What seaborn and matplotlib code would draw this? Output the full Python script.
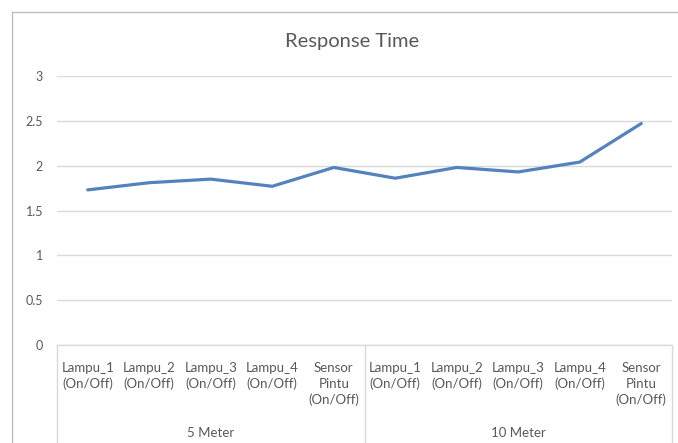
import matplotlib
matplotlib.use("Agg")
import matplotlib.pyplot as plt
import matplotlib.transforms as mtransforms
from matplotlib.lines import Line2D
import seaborn as sns
import pandas as pd

# ---- data ----
groups = ["5 Meter", "10 Meter"]
categories = ["Lampu_1\n(On/Off)", "Lampu_2\n(On/Off)", "Lampu_3\n(On/Off)",
              "Lampu_4\n(On/Off)", "Sensor\nPintu\n(On/Off)"]
values_5m = [1.73, 1.81, 1.85, 1.77, 1.98]
values_10m = [1.86, 1.98, 1.93, 2.04, 2.47]
y_ticks = [0, 0.5, 1, 1.5, 2, 2.5, 3]
y_tick_labels = ["0", "0.5", "1", "1.5", "2", "2.5", "3"]
title = "Response Time"

labels = categories + categories
values = values_5m + values_10m
df = pd.DataFrame({"idx": list(range(len(values))), "value": values})

sns.set_theme(style="white")
plt.rcParams["font.family"] = ["Lato", "DejaVu Sans"]

W, H = 678, 443
fig = plt.figure(figsize=(W / 100, H / 100), dpi=100)
left, right, top, bottom = 57, 672, 76, 345
ax = fig.add_axes([left / W, 1 - bottom / H, (right - left) / W, (bottom - top) / H])

text_color = "#595959"
grid_color = "#d9d9d9"
line_color = "#5482bd"

sns.lineplot(data=df, x="idx", y="value", ax=ax, color=line_color,
             linewidth=2.3, solid_joinstyle="round", solid_capstyle="round")

ax.set_xlim(-0.5, len(values) - 0.5)
ax.set_ylim(0, 3)
ax.set_yticks(y_ticks)
ax.set_yticklabels(y_tick_labels, color=text_color, fontsize=9)
ax.set_xticks(range(len(values)))
ax.set_xticklabels(labels, color=text_color, fontsize=9.5, linespacing=1.4)
ax.tick_params(axis="x", length=0, pad=12)
ax.tick_params(axis="y", length=0, pad=10)
ax.set_xlabel("")
ax.set_ylabel("")
ax.yaxis.grid(True, color=grid_color, linewidth=1)
ax.xaxis.grid(False)
for s in ["left", "right", "top"]:
    ax.spines[s].set_visible(False)
ax.spines["bottom"].set_color(grid_color)
ax.spines["bottom"].set_linewidth(1)

# multi-level category axis separators
trans = mtransforms.blended_transform_factory(ax.transData, ax.transAxes)
axis_h = bottom - top
low = -(H - bottom) / axis_h
n = len(categories)
for xv in [-0.5, n - 0.5, 2 * n - 0.5]:
    ax.add_line(Line2D([xv, xv], [0, low], transform=trans, color=grid_color,
                       linewidth=1, clip_on=False))
for gi, g in enumerate(groups):
    ax.text(gi * n + (n - 1) / 2, -(433 - bottom) / axis_h, g, transform=trans,
            ha="center", va="center", color=text_color, fontsize=9.5)

# title
fig.text(352 / W, 1 - 42 / H, title, ha="center", va="center",
         color=text_color, fontsize=14.5)

# outer chart border (left and top)
fig.add_artist(Line2D([12 / W, 12 / W], [0, 1 - 12 / H], transform=fig.transFigure,
                      color="#bfbfbf", linewidth=1))
fig.add_artist(Line2D([12 / W, 1], [1 - 12 / H, 1 - 12 / H], transform=fig.transFigure,
                      color="#bfbfbf", linewidth=1))

fig.savefig("out.png", dpi=100, facecolor="white")
